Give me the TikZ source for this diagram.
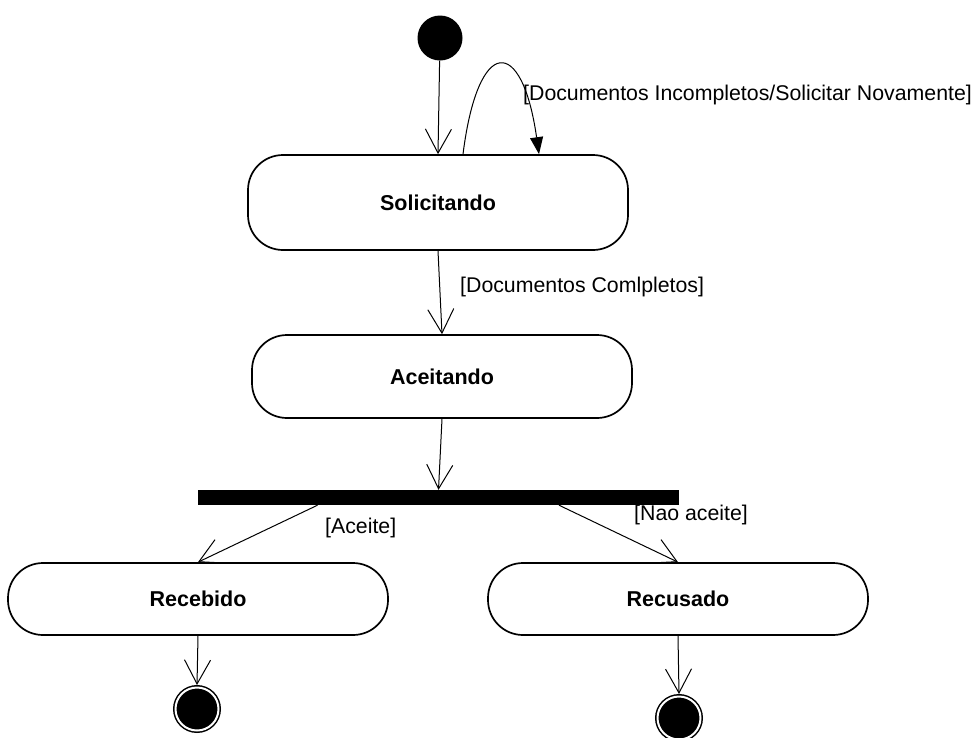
\documentclass[tikz,border=0pt]{standalone}
\usepackage{fontspec}
\setmainfont{Liberation Sans}
\usetikzlibrary{arrows.meta}
\begin{document}
\begin{tikzpicture}[x=1pt,y=-1pt,
  state/.style={draw, line width=1.7pt, rounded corners=35pt,
    minimum width=380pt, inner sep=0pt,
    font=\fontsize{21.5}{25}\selectfont\bfseries},
  guard/.style={inner sep=0pt, anchor=west,
    font=\fontsize{21.3}{25}\selectfont},
  flow/.style={line width=1pt,
    -{Straight Barb[length=24pt,width=26pt,line width=1pt]}},
  loopflow/.style={line width=1pt,
    -{Triangle[length=17pt,width=13pt]}},
  startdot/.style={circle, fill=black, minimum size=45pt, inner sep=0pt},
  enddot/.style={circle, draw=black, fill=black, line width=1.5pt,
    double=white, double distance=2pt, minimum size=43pt,
    inner sep=0pt, outer sep=2.5pt},
  syncbar/.style={rectangle, fill=black, minimum width=481pt,
    minimum height=15pt, inner sep=0pt}]
\useasboundingbox (0,0) rectangle (975,737);

% states
\node[startdot] (init) at (440,38) {};
\node[state, minimum height=95pt] (sol) at (438,202.5) {Solicitando};
\node[state, minimum height=83pt] (ace) at (442,376.5) {Aceitando};
\node[syncbar] (bar) at (438.5,497.5) {};
\node[state, minimum height=72pt] (rec) at (198,599) {Recebido};
\node[state, minimum height=72pt] (recu) at (678,599) {Recusado};
\node[enddot] (fin1) at (197,709) {};
\node[enddot] (fin2) at (679,718) {};

% branch points on the bar
\coordinate (barL) at ([xshift=-121pt]bar.south);
\coordinate (barR) at ([xshift=120.5pt]bar.south);

% transitions
\draw[flow] (init) -- (sol.north);
\draw[loopflow] ([xshift=25pt]sol.north)
  .. controls +(15,-119) and +(-17,-119) .. ([xshift=101pt]sol.north);
\draw[flow] (sol.south) -- (ace.north);
\draw[flow] (ace.south) -- (bar.north);
\draw[flow] (barL) -- (rec.north);
\draw[flow] (barR) -- (recu.north);
\draw[flow] (rec.south) -- (fin1.north);
\draw[flow] (recu.south) -- (fin2.north);

% guards
\node[guard] (gloop) at (523,95) {[Documentos Incompletos/Solicitar Novamente]};
\node[guard] (gcomp) at (460,287) {[Documentos Comlpletos]};
\node[guard] (gacc) at (325,528) {[Aceite]};
\node[guard] (gnao) at (634,515) {[Nao aceite]};
\end{tikzpicture}
\end{document}
